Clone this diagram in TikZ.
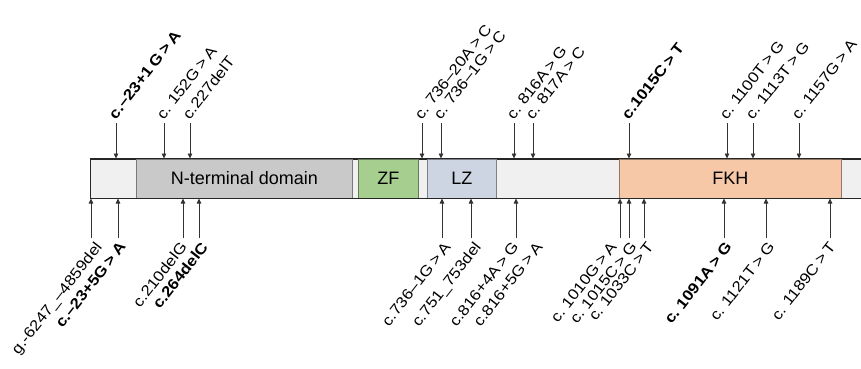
\documentclass[tikz,border=0pt]{standalone}
\usepackage{fontspec}
\setmainfont{Liberation Sans}
\newfontfamily\mutfont{Liberation Sans}[WordSpace=0.7]
\usetikzlibrary{arrows.meta}
\definecolor{barcol}{HTML}{F0F0F0}
\definecolor{ntcol}{HTML}{C9C9C9}
\definecolor{zfcol}{HTML}{A6CF8F}
\definecolor{lzcol}{HTML}{CDD5E3}
\definecolor{fkhcol}{HTML}{F6C8A8}
\definecolor{arrcol}{HTML}{333333}
\tikzset{
  protbar/.style = {draw=black!85, fill=barcol, line width=1pt,
    minimum height=39pt, inner sep=0pt, anchor=west},
  domain/.style = {draw=#1!60!black, fill=#1, line width=0.8pt,
    minimum height=39pt, inner sep=0pt, anchor=west,
    font=\fontsize{18}{20}\selectfont},
  mutarrow/.style = {draw=arrcol, line width=0.8pt,
    -{Triangle[length=5pt,width=4.5pt]}},
  toplab/.style = {anchor=south west, yshift=1pt, rotate=52, xscale=1.13,
    inner sep=1pt, font=\mutfont\fontsize{15}{17}\selectfont},
  botlab/.style = {anchor=north east, yshift=-1pt, rotate=52, xscale=1.13,
    inner sep=1pt, font=\mutfont\fontsize{15}{17}\selectfont}
}

\begin{document}
\begin{tikzpicture}[x=1pt,y=-1pt]
  \useasboundingbox (0,0) rectangle (861,369);
  % protein bar and domains
  \node[protbar, minimum width=780pt] (bar) at (90,178.5) {};
  \node[domain=ntcol,  minimum width=216pt] (nterm) at (136,178.5) {N-terminal domain};
  \node[domain=zfcol,  minimum width=60pt]  (zf)    at (358,178.5) {ZF};
  \node[domain=lzcol,  minimum width=69pt]  (lz)    at (427,178.5) {LZ};
  \node[domain=fkhcol, minimum width=222pt] (fkh)   at (619,178.5) {FKH};
  \draw[black!85, line width=1pt] (bar.north west) rectangle (bar.south east);

  % mutations above the bar
  \foreach \x/\nm/\txt in {
      116/m23a/{\bfseries c.–23+1 G > A},
      164/m152/{c. 152G > A},
      190/m227/{c.227delT},
      422/m736a/{c. 736–20A > C},
      441/m736b/{c. 736–1G > C},
      514/m816/{c. 816A > G},
      533/m817/{c. 817A > C},
      629/m1015a/{\bfseries c.1015C > T},
      727/m1100/{c. 1100T > G},
      753/m1113/{c. 1113T > G},
      799/m1157/{c. 1157G > A}}{
    \coordinate (\nm) at (\x,123);
    \draw[mutarrow] (\nm) -- (\nm |- bar.north);
    \node[toplab] (\nm lab) at (\nm) {\txt};
  }

  % mutations below the bar
  \foreach \x/\nm/\dx/\txt in {
      91/g6247/3/{g.-6247\_–4859del},
      118/m23b/0/{\bfseries c.–23+5G > A},
      183/m210/-4/{c.210delG},
      199/m264/1/{\bfseries c.264delC},
      442/m736c/1/{c.736–1G > A},
      471/m751/2/{c.751\_753del},
      516/m816a/-5/{c.816+4A > G},
      620/m1010/-11/{c. 1010G > A},
      629/m1015b/0/{c. 1015C > G},
      644/m1033/2/{c. 1033C > T},
      724/m1091/0/{\bfseries c. 1091A > G},
      766/m1121/1/{c. 1121T > G},
      830/m1189/-2/{c. 1189C > T}}{
    \coordinate (\nm) at (\x,238);
    \draw[mutarrow] (\nm) -- (\nm |- bar.south);
    \node[botlab] (\nm lab) at ([xshift=\dx pt]\nm) {\txt};
  }
  \node[botlab] (m816blab) at ([xshift=19pt]m816a) {c.816+5G > A};
\end{tikzpicture}
\end{document}
